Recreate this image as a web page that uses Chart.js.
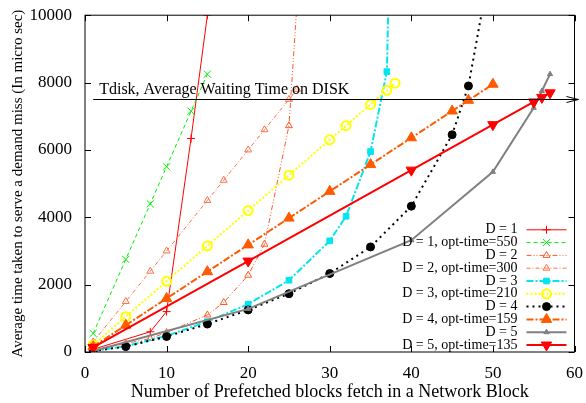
<!DOCTYPE html>
<html>
<head>
<meta charset="utf-8">
<script src="https://cdn.jsdelivr.net/npm/chart.js@4"></script>
<style>
  html, body { margin: 0; padding: 0; background: #fff; }
  canvas { display: block; }
</style>
</head>
<body>
<canvas id="chart" width="586" height="403"></canvas>
<script>
// x values (prefetched blocks) and y values (micro sec) per curve
const xD1 = [1, 8, 10, 13, 15];
const yD1 = [80, 600, 1200, 6340, 10000];
const xD1opt = [1, 5, 8, 10, 13, 15];
const yD1opt = [550, 2750, 4400, 5500, 7150, 8250];
const xD2 = [1, 5, 8, 10, 15, 17, 20, 22, 25, 26];
const yD2 = [60, 250, 400, 580, 1100, 1470, 2280, 3200, 6720, 10400];
const xD2opt = [1, 5, 8, 10, 15, 17, 20, 22, 25, 26];
const yD2opt = [300, 1500, 2400, 3000, 4500, 5100, 6000, 6600, 7500, 7800];
const xD3 = [1, 5, 10, 15, 20, 25, 30, 32, 35, 37, 38];
const yD3 = [30, 170, 480, 900, 1420, 2130, 3300, 4030, 5950, 8325, 19000];
const xD3opt = [1, 5, 10, 15, 20, 25, 30, 32, 35, 37, 38];
const yD3opt = [210, 1050, 2100, 3150, 4200, 5250, 6300, 6720, 7350, 7770, 7980];
const xD4 = [1, 5, 10, 15, 20, 25, 30, 35, 40, 45, 47, 50];
const yD4 = [30, 160, 460, 830, 1250, 1730, 2330, 3120, 4330, 6450, 7900, 11900];
const xD4opt = [1, 5, 10, 15, 20, 25, 30, 35, 40, 45, 47, 50];
const yD4opt = [159, 795, 1590, 2385, 3180, 3975, 4770, 5565, 6360, 7155, 7473, 7950];
const xD5 = [1, 20, 40, 50, 55, 56, 57];
const yD5 = [30, 1280, 3320, 5350, 7250, 7750, 8250];
const xD5opt = [1, 20, 40, 50, 55, 56, 57];
const yD5opt = [135, 2700, 5400, 6750, 7425, 7560, 7695];

const xTicks = [0, 10, 20, 30, 40, 50, 60];
const yTicks = [0, 2000, 4000, 6000, 8000, 10000];
const tdisk = 7500;
const tdiskLabel = 'Tdisk, Average Waiting Time on DISK';

const FONT = '"Liberation Serif", "DejaVu Serif", serif';

const pts = (xs, ys) => xs.map((x, i) => ({ x: x, y: ys[i] }));

function series(label, xs, ys, color, opts) {
    return Object.assign({
        label: label,
        data: pts(xs, ys),
        borderColor: color,
        backgroundColor: color,
        pointBorderColor: color,
        pointBackgroundColor: color,
        borderWidth: 1,
        pointRadius: 4,
        pointBorderWidth: 1,
        tension: 0,
        fill: false
    }, opts);
}

const datasets = [
    series('D = 1', xD1, yD1, '#ff0000', { pointStyle: 'cross', pointRadius: 4 }),
    series('D = 1, opt-time=550', xD1opt, yD1opt, '#00ee00', { pointStyle: 'crossRot', borderDash: [4, 3], pointRadius: 5 }),
    series('D = 2', xD2, yD2, '#ff5a28', { pointStyle: 'triangle', borderDash: [5, 2, 1, 2, 1, 2], pointBackgroundColor: 'rgba(0,0,0,0)' }),
    series('D = 2, opt-time=300', xD2opt, yD2opt, '#ff7048', { pointStyle: 'triangle', borderDash: [4, 2, 1, 2], pointBackgroundColor: 'rgba(0,0,0,0)' }),
    series('D = 3', xD3, yD3, '#00e5ee', { pointStyle: 'rect', borderWidth: 2, borderDash: [7, 2, 2, 2], pointRadius: 4 }),
    series('D = 3, opt-time=210', xD3opt, yD3opt, '#ffff00', { pointStyle: 'circle', borderWidth: 2, borderDash: [2, 2], pointBackgroundColor: 'rgba(0,0,0,0)', pointBorderWidth: 2, pointRadius: 4.5 }),
    series('D = 4', xD4, yD4, '#000000', { pointStyle: 'circle', borderWidth: 2, borderDash: [2, 4], pointRadius: 4 }),
    series('D = 4, opt-time=159', xD4opt, yD4opt, '#ff5a00', { pointStyle: 'triangle', borderWidth: 2, borderDash: [7, 2, 2, 2], pointRadius: 6 }),
    series('D = 5', xD5, yD5, '#808080', { pointStyle: 'triangle', borderWidth: 2, pointRadius: 3 }),
    series('D = 5, opt-time=135', xD5opt, yD5opt, '#ff0000', { pointStyle: 'triangle', rotation: 180, borderWidth: 2, pointRadius: 6 })
];
datasets.forEach((d, i) => { d.order = datasets.length - i; });

// border box, inward mirror ticks, Tdisk arrow and a gnuplot-like key
const decorations = {
    id: 'decorations',
    afterDatasetsDraw(chart) {
        const { ctx, chartArea: a, scales } = chart;
        ctx.save();
        ctx.strokeStyle = '#000';
        ctx.lineWidth = 1;
        ctx.strokeRect(a.left, a.top, a.right - a.left, a.bottom - a.top);
        ctx.beginPath();
        xTicks.forEach(v => {
            const px = Math.round(scales.x.getPixelForValue(v)) + 0.5;
            ctx.moveTo(px, a.bottom); ctx.lineTo(px, a.bottom - 6);
            ctx.moveTo(px, a.top); ctx.lineTo(px, a.top + 6);
        });
        yTicks.forEach(v => {
            const py = Math.round(scales.y.getPixelForValue(v)) + 0.5;
            ctx.moveTo(a.left, py); ctx.lineTo(a.left + 6, py);
            ctx.moveTo(a.right, py); ctx.lineTo(a.right - 6, py);
        });
        ctx.stroke();

        // Tdisk line
        const ty = Math.round(scales.y.getPixelForValue(tdisk)) + 0.5;
        const tx0 = scales.x.getPixelForValue(1);
        const tx1 = a.right + 4;
        ctx.beginPath();
        ctx.moveTo(tx0, ty); ctx.lineTo(tx1, ty);
        ctx.stroke();
        ctx.beginPath();
        ctx.moveTo(tx1 - 12, ty - 3); ctx.lineTo(tx1, ty); ctx.lineTo(tx1 - 12, ty + 3);
        ctx.stroke();
        ctx.fillStyle = '#000';
        ctx.font = '16px ' + FONT;
        ctx.textAlign = 'left';
        ctx.textBaseline = 'alphabetic';
        ctx.fillText(tdiskLabel, tx0 + 6, ty - 6);

        // key
        ctx.font = '14px ' + FONT;
        ctx.textAlign = 'right';
        ctx.textBaseline = 'middle';
        chart.data.datasets.forEach((d, i) => {
            const y = a.bottom - 7 - (chart.data.datasets.length - 1 - i) * 12.8;
            ctx.fillStyle = '#000';
            ctx.fillText(d.label, a.right - 57, y);
            ctx.save();
            ctx.strokeStyle = d.borderColor;
            ctx.lineWidth = d.borderWidth;
            ctx.setLineDash(d.borderDash || []);
            ctx.beginPath();
            ctx.moveTo(a.right - 48, y); ctx.lineTo(a.right - 8, y);
            ctx.stroke();
            ctx.setLineDash([]);
            ctx.strokeStyle = d.pointBorderColor;
            ctx.fillStyle = d.pointBackgroundColor;
            ctx.lineWidth = d.pointBorderWidth;
            Chart.helpers.drawPoint(ctx, { pointStyle: d.pointStyle, radius: d.pointRadius, rotation: d.rotation || 0, borderWidth: d.pointBorderWidth }, a.right - 28, y);
            ctx.restore();
        });
        ctx.restore();
    }
};

new Chart(document.getElementById('chart').getContext('2d'), {
    type: 'line',
    data: { datasets: datasets },
    options: {
        responsive: false,
        animation: false,
        devicePixelRatio: 1,
        layout: { padding: { top: 14, right: 11, left: 0, bottom: 0 } },
        plugins: { legend: { display: false }, tooltip: { enabled: false } },
        scales: {
            x: {
                type: 'linear',
                min: 0, max: 60,
                grid: { display: false },
                border: { display: false },
                afterBuildTicks: s => { s.ticks = xTicks.map(v => ({ value: v })); },
                afterFit: s => { s.height = 51; },
                ticks: { color: '#000', padding: 3, maxRotation: 0, font: { family: FONT, size: 17 }, callback: v => String(v) },
                title: {
                    display: true,
                    text: 'Number of Prefetched blocks fetch in a Network Block',
                    color: '#000',
                    padding: { top: 7, bottom: 0 },
                    font: { family: FONT, size: 18 }
                }
            },
            y: {
                min: 0, max: 10000,
                grid: { display: false },
                border: { display: false },
                afterBuildTicks: s => { s.ticks = yTicks.map(v => ({ value: v })); },
                afterFit: s => { s.width = 85; },
                ticks: { color: '#000', padding: 5, font: { family: FONT, size: 17 }, callback: v => String(v) },
                title: {
                    display: true,
                    text: 'Average time taken to serve a demand miss (In micro sec)',
                    color: '#000',
                    padding: { top: 9, bottom: 4 },
                    font: { family: FONT, size: 15 }
                }
            }
        }
    },
    plugins: [decorations]
});
</script>
</body>
</html>
